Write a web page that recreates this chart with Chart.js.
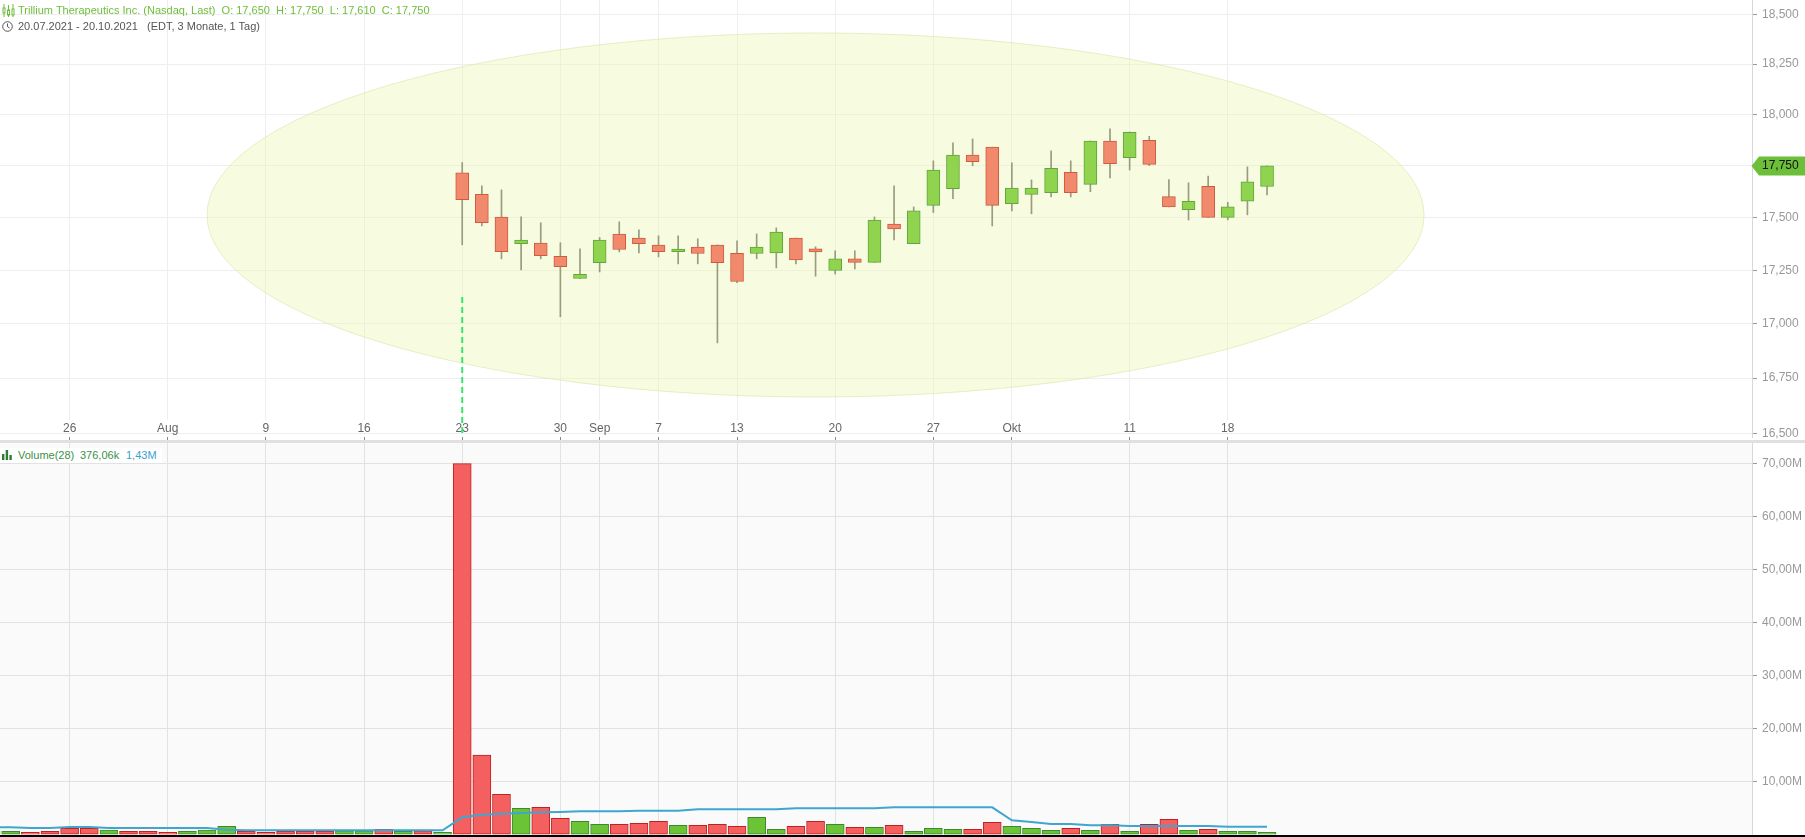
<!DOCTYPE html>
<html><head><meta charset="utf-8">
<style>
html,body{margin:0;padding:0;width:1805px;height:837px;overflow:hidden;background:#fff;font-family:"Liberation Sans",Arial,sans-serif}
canvas{position:absolute;left:0;display:block}
.t{position:absolute;white-space:pre;font-size:11px;line-height:14px}
#sep{position:absolute;left:0;top:440px;width:1805px;height:3px;background:#e0e0e0}
#blk{position:absolute;left:0;top:835px;width:1805px;height:2px;background:#000}
svg{position:absolute}
</style>
<script src="https://cdn.jsdelivr.net/npm/chart.js@4"></script>
</head><body>
<canvas id="top" width="1805" height="440" style="top:0"></canvas>
<div id="sep"></div>
<canvas id="bot" width="1805" height="392" style="top:443px"></canvas>
<div id="blk"></div>
<svg style="left:2px;top:4px" width="14" height="13" viewBox="0 0 14 13" fill="none" stroke="#6dbe3a" stroke-width="1"><path d="M2 0v13M6.5 1v12M11 0v13"/><rect x="1" y="4" width="2" height="5" fill="#fff"/><rect x="5.5" y="6" width="2" height="5" fill="#fff"/><rect x="10" y="5" width="2" height="6" fill="#fff"/></svg>
<div class="t" style="left:18px;top:3px;color:#6dbe3a">Trillium Therapeutics Inc. (Nasdaq, Last)  O: 17,650  H: 17,750  L: 17,610  C: 17,750</div>
<svg style="left:2px;top:21px" width="11" height="11" viewBox="0 0 11 11" fill="none" stroke="#555" stroke-width="1"><circle cx="5.5" cy="5.5" r="4.8"/><path d="M5.5 2.5v3.2l2 1.2"/></svg>
<div class="t" style="left:18px;top:19px;color:#555">20.07.2021 - 20.10.2021   (EDT, 3 Monate, 1 Tag)</div>
<div style="position:absolute;left:0;top:448px;width:162px;height:15px;background:#fff"></div>
<svg style="left:2px;top:450px" width="12" height="10" viewBox="0 0 12 10" fill="#2e7d32"><rect x="0" y="4" width="2.4" height="6"/><rect x="3.7" y="0" width="2.4" height="10"/><rect x="7.4" y="5" width="2.4" height="5"/></svg>
<div class="t" style="left:18px;top:448px;color:#3d8f4a">Volume(28)</div>
<div class="t" style="left:80px;top:448px;color:#3d8f4a">376,06k</div>
<div class="t" style="left:126px;top:448px;color:#3aa0d0">1,43M</div>
<script>
const categories=['20.07','21.07','22.07','23.07','26.07','27.07','28.07','29.07','30.07',
'02.08','03.08','04.08','05.08','06.08','09.08','10.08','11.08','12.08','13.08','16.08','17.08','18.08','19.08','20.08','23.08','24.08','25.08','26.08','27.08','30.08','31.08',
'01.09','02.09','03.09','07.09','08.09','09.09','10.09','13.09','14.09','15.09','16.09','17.09','20.09','21.09','22.09','23.09','24.09','27.09','28.09','29.09','30.09',
'01.10','04.10','05.10','06.10','07.10','08.10','11.10','12.10','13.10','14.10','15.10','18.10','19.10','20.10'];
const candleStart='23.08';
const opens=[17.716,17.613,17.503,17.377,17.379,17.317,17.212,17.287,17.422,17.403,17.370,17.339,17.360,17.370,17.331,17.330,17.333,17.403,17.352,17.250,17.305,17.288,17.470,17.377,17.559,17.640,17.802,17.841,17.568,17.612,17.621,17.719,17.660,17.870,17.790,17.874,17.601,17.539,17.651,17.502,17.579,17.650];
const highs=[17.766,17.653,17.634,17.504,17.476,17.381,17.352,17.406,17.481,17.442,17.414,17.414,17.400,17.371,17.390,17.423,17.452,17.403,17.362,17.343,17.343,17.504,17.653,17.552,17.774,17.862,17.881,17.841,17.764,17.682,17.823,17.774,17.871,17.930,17.915,17.894,17.684,17.668,17.701,17.574,17.745,17.750];
const lows=[17.371,17.461,17.305,17.252,17.305,17.033,17.212,17.243,17.338,17.333,17.314,17.281,17.281,16.912,17.192,17.305,17.262,17.281,17.223,17.233,17.257,17.288,17.395,17.377,17.525,17.592,17.750,17.461,17.533,17.519,17.600,17.600,17.625,17.692,17.730,17.751,17.552,17.489,17.502,17.490,17.514,17.610];
const closes=[17.587,17.477,17.339,17.394,17.320,17.268,17.232,17.394,17.349,17.377,17.339,17.351,17.330,17.287,17.198,17.360,17.432,17.300,17.338,17.305,17.288,17.489,17.447,17.533,17.729,17.802,17.770,17.559,17.642,17.642,17.738,17.621,17.870,17.761,17.913,17.757,17.552,17.579,17.502,17.552,17.673,17.750];
const volumeM=[0.6,.55,.36,.55,1.12,1.12,.80,.55,.55,.36,.55,.80,1.50,.55,.36,.55,.55,.55,.67,.67,.93,.55,.67,.36,70,14.97,7.54,4.90,5.08,3.01,2.44,1.87,1.87,2.06,2.44,1.68,1.68,1.87,1.50,3.20,.93,1.50,2.44,1.87,1.31,1.31,1.68,.55,1.12,.93,.93,2.25,1.50,1.12,.74,1.12,.74,1.87,.55,1.87,2.82,.74,.93,.55,.55,.376];
const volumeDir=['G','G','R','R','R','R','G','R','R','R','G','G','G','R','R','R','R','R','G','G','R','G','R','G','R','R','R','G','R','R','G','G','R','R','R','G','R','R','R','G','G','R','R','G','R','G','R','G','G','G','R','R','G','G','G','R','G','R','G','R','R','G','R','G','G','G'];
const volumeMA=[1.31,1.31,1.18,1.18,1.37,1.37,1.18,1.18,1.18,1.18,1.18,1.18,.87,.74,.74,.74,.74,.74,.74,.74,.74,.74,.74,.74,3.20,3.70,3.89,4.02,4.14,4.20,4.33,4.33,4.33,4.45,4.45,4.45,4.70,4.70,4.70,4.70,4.70,4.89,4.89,4.89,4.89,4.89,5.08,5.08,5.08,5.08,5.08,5.08,2.63,2.31,1.94,1.94,1.68,1.68,1.56,1.56,1.56,1.56,1.56,1.43,1.43,1.43];
const xTickDates=['26.07','02.08','09.08','16.08','23.08','30.08','01.09','07.09','13.09','20.09','27.09','01.10','11.10','18.10'];
const xTickLabels=['26','Aug','9','16','23','30','Sep','7','13','20','27','Okt','11','18'];
const priceTicks=[18.5,18.25,18,17.75,17.5,17.25,17,16.75,16.5];
const volumeTicks=[10,20,30,40,50,60,70];
const markerPrices=[17.126,16.492];
const ellipseIdx=[11.0,73.0];
const ellipsePrices=[18.406,16.664];
const xMin=0.453,xMax=89.705,priceMin=16.483,priceMax=18.5724,volMin=-0.14,volMax=73.89;

const c0=categories.indexOf(candleStart);
const AXW=53;
const fmtPrice=v=>Number(v).toFixed(3).replace('.',',');
const fmtVol=v=>Number(v).toFixed(2).replace('.',',')+'M';
const font={family:'"Liberation Sans",Arial,sans-serif',size:12};
const xTickVals=xTickDates.map(d=>categories.indexOf(d));
function xScale(showTicks,gridColor){
  return {type:'linear',min:xMin,max:xMax,offset:false,
    afterBuildTicks:s=>{s.ticks=xTickVals.map(v=>({value:v}));},
    afterFit:s=>{s.height=showTicks?3:0;s.paddingLeft=0;s.paddingRight=0;s.paddingTop=0;s.paddingBottom=0;},
    border:{display:false},
    grid:{offset:false,color:gridColor,tickColor:'#888',drawTicks:showTicks,tickLength:3},
    ticks:{display:false}};
}
function yScale(type,min,max,vals,fmt,gridColor){
  return {type,position:'right',min,max,
    afterBuildTicks:s=>{s.ticks=vals.map(v=>({value:v}));},
    afterFit:s=>{s.width=AXW;s.paddingTop=0;s.paddingBottom=0;s.paddingLeft=0;s.paddingRight=0;},
    border:{display:true,color:'#d8d8d8'},
    grid:{color:gridColor,tickColor:'#999',tickLength:5},
    ticks:{autoSkip:false,padding:5,color:'#999',font,callback:fmt}};
}
const up=i=>closes[i]>=opens[i];
const topPlugin={id:'topExtras',
  beforeDatasetsDraw(ch){
    const c=ch.ctx,x=ch.scales.x,y=ch.scales.y,a=ch.chartArea;
    c.save();
    c.fillStyle='#fff';
    c.fillRect(0,420,a.right-0.5,12.6);
    c.fillRect(0,434.4,a.right-0.5,a.bottom-434.4);
    c.fillStyle='#666';c.font='12px "Liberation Sans",Arial,sans-serif';c.textAlign='center';c.textBaseline='middle';
    xTickVals.forEach((v,i)=>c.fillText(xTickLabels[i],x.getPixelForValue(v),429));
    const l=x.getPixelForValue(ellipseIdx[0]),r=x.getPixelForValue(ellipseIdx[1]);
    const t=y.getPixelForValue(ellipsePrices[0]),b=y.getPixelForValue(ellipsePrices[1]);
    c.beginPath();
    c.ellipse((l+r)/2,(t+b)/2,(r-l)/2,(b-t)/2,0,0,Math.PI*2);
    c.fillStyle='rgba(235,245,177,0.4)';c.fill();
    c.strokeStyle='rgba(215,225,160,0.55)';c.lineWidth=1;c.stroke();
    c.restore();
  },
  afterDraw(ch){
    const c=ch.ctx,y=ch.scales.y,a=ch.chartArea;
    const last=closes[closes.length-1],py=Math.round(y.getPixelForValue(last));
    c.save();
    c.fillStyle='#6cbf38';
    c.beginPath();c.moveTo(a.right-0.5,py);c.lineTo(a.right+7,py-9.5);c.lineTo(1805,py-9.5);c.lineTo(1805,py+9.5);c.lineTo(a.right+7,py+9.5);c.closePath();c.fill();
    c.fillStyle='#111';c.font='12px "Liberation Sans",Arial,sans-serif';c.textBaseline='middle';c.textAlign='left';
    c.fillText(fmtPrice(last),1762,py);
    c.restore();
  }};
const botPlugin={id:'panelBg',
  beforeDraw(ch){const c=ch.ctx,a=ch.chartArea;c.save();c.fillStyle='#fafafa';c.fillRect(a.left,a.top,a.right-a.left,a.bottom-a.top);c.restore();}};

new Chart(document.getElementById('top'),{
  plugins:[topPlugin],
  data:{datasets:[
    {type:'line',order:0,data:markerPrices.map(p=>({x:c0,y:p})),borderColor:'#35e86c',borderWidth:2,borderDash:[6,4],pointRadius:0,fill:false},
    {type:'bar',order:1,grouped:false,barThickness:13,borderWidth:1,borderSkipped:false,
      data:opens.map((o,i)=>({x:c0+i,y:[o,closes[i]]})),
      backgroundColor:opens.map((o,i)=>up(i)?'#8fd34f':'#f18a6c'),
      borderColor:opens.map((o,i)=>up(i)?'#5fa63c':'#cf5a40')},
    {type:'bar',order:2,grouped:false,barThickness:1,borderWidth:0,
      data:highs.map((h,i)=>({x:c0+i,y:[lows[i],h]})),backgroundColor:'#9a9c7c'}
  ]},
  options:{responsive:false,animation:false,devicePixelRatio:1,
    layout:{padding:0},
    plugins:{legend:{display:false},tooltip:{enabled:false}},
    scales:{x:xScale(true,'#eeeeee'),y:yScale('logarithmic',priceMin,priceMax,priceTicks,fmtPrice,'#eeeeee')}}
});
new Chart(document.getElementById('bot'),{
  plugins:[botPlugin],
  data:{datasets:[
    {type:'line',order:0,data:volumeMA.map((v,i)=>({x:i,y:v})),borderColor:'#3fa7cf',borderWidth:2,pointRadius:0,fill:false},
    {type:'bar',order:1,grouped:false,barThickness:18,borderWidth:1,borderSkipped:false,
      data:volumeM.map((v,i)=>({x:i,y:v})),
      backgroundColor:volumeDir.map(d=>d==='G'?'#6bc435':'#f46060'),
      borderColor:volumeDir.map(d=>d==='G'?'#3a8a30':'#c02020')}
  ]},
  options:{responsive:false,animation:false,devicePixelRatio:1,
    layout:{padding:0},
    plugins:{legend:{display:false},tooltip:{enabled:false}},
    scales:{x:xScale(false,'#e2e2e2'),y:yScale('linear',volMin,volMax,volumeTicks,fmtVol,'#e2e2e2')}}
});
</script>
</body></html>
